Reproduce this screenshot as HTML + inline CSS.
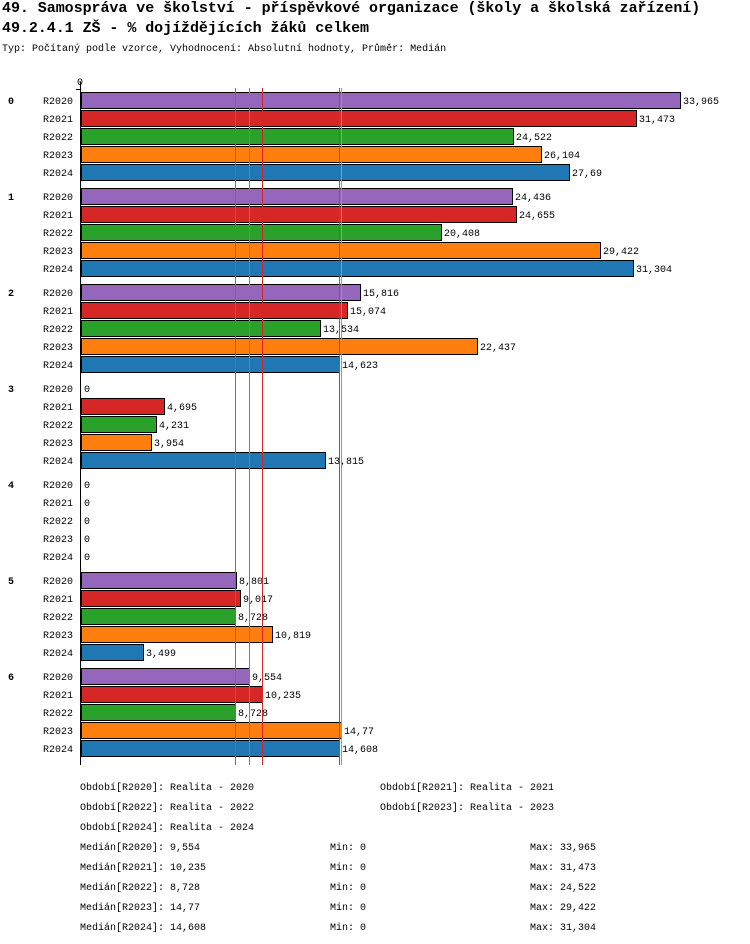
<!DOCTYPE html>
<html><head><meta charset="utf-8"><style>
body{margin:0;background:#fff;width:750px;height:944px;overflow:hidden;font-family:"Liberation Mono",monospace;}
.t{position:absolute;left:2px;font-weight:bold;font-size:15px;white-space:nowrap;letter-spacing:-0.05px;}
.s{position:absolute;left:2px;top:44px;font-size:10px;}
svg{position:absolute;left:0;top:0;}
svg text{font-family:"Liberation Mono",monospace;font-size:10px;}
</style></head><body>
<div class="t" style="top:0px">49. Samospráva ve školství - příspěvkové organizace (školy a školská zařízení)</div>
<div class="t" style="top:20px">49.2.4.1 ZŠ - % dojíždějících žáků celkem</div>
<div class="s">Typ: Počítaný podle vzorce, Vyhodnocení: Absolutní hodnoty, Průměr: Medián</div>
<svg id="c" width="750" height="944" shape-rendering="crispEdges"></svg>
<script>
const groups=["0","1","2","3","4","5","6"];
const series=["R2020","R2021","R2022","R2023","R2024"];
const colors=["#9467bd","#d62728","#2ca02c","#ff7f0e","#1f77b4"];
const values=[
[33.965,31.473,24.522,26.104,27.69],
[24.436,24.655,20.408,29.422,31.304],
[15.816,15.074,13.534,22.437,14.623],
[0,4.695,4.231,3.954,13.815],
[0,0,0,0,0],
[8.801,9.017,8.728,10.819,3.499],
[9.554,10.235,8.728,14.77,14.608]];
const labels=[
["33,965","31,473","24,522","26,104","27,69"],
["24,436","24,655","20,408","29,422","31,304"],
["15,816","15,074","13,534","22,437","14,623"],
["0","4,695","4,231","3,954","13,815"],
["0","0","0","0","0"],
["8,801","9,017","8,728","10,819","3,499"],
["9,554","10,235","8,728","14,77","14,608"]];
const medians=[9.554,10.235,8.728,14.77,14.608];
const medianLabels=["9,554","10,235","8,728","14,77","14,608"];
const maxLabels=["33,965","31,473","24,522","29,422","31,304"];
const x0=81,k=599/33.965;
const X=v=>Math.round(x0+v*k);
const Y=(g,r)=>100+g*96+r*18;
const svg=document.getElementById('c');
const NS="http://www.w3.org/2000/svg";
function mk(t,a){const e=document.createElementNS(NS,t);for(const n in a)e.setAttribute(n,a[n]);svg.appendChild(e);return e;}
let e;
e=mk('rect',{x:80,y:82,width:1,height:683,fill:'#000'});


e=mk('rect',{x:76,y:89,width:4,height:1,fill:'#000'});
e=mk('text',{x:77,y:85});e.textContent='0';


groups.forEach((g,gi)=>{
 e=mk('text',{x:8,y:Y(gi,0)+4,'font-weight':'bold'});e.textContent=g;
 
 
 series.forEach((s,si)=>{
  const cy=Y(gi,si),v=values[gi][si];
  e=mk('text',{x:43,y:cy+4});e.textContent=s;
  
  
  if(v>0){e=mk('rect',{x:x0+0.5,y:cy-7.5,width:X(v)-x0,height:16,fill:colors[si],stroke:'#000','stroke-width':1});
  
  }
  e=mk('text',{x:X(v)+3,y:cy+4});e.textContent=labels[gi][si];
  
  
 });
});
medians.forEach((m,i)=>{
 e=mk('rect',{x:X(m),y:88,width:1,height:677,fill:colors[i]});
 
 
});
function txt(x,y,s,n){e=mk('text',{x:x,y:y});e.textContent=s;
 
 }
txt(80,790,'Období[R2020]: Realita - 2020','legend-entry');
txt(380,790,'Období[R2021]: Realita - 2021','legend-entry');
txt(80,810,'Období[R2022]: Realita - 2022','legend-entry');
txt(380,810,'Období[R2023]: Realita - 2023','legend-entry');
txt(80,830,'Období[R2024]: Realita - 2024','legend-entry');
series.forEach((s,i)=>{
 const y=850+i*20;
 txt(80,y,'Medián['+s+']: '+medianLabels[i],'median-stat');
 txt(330,y,'Min: 0','min-stat');
 txt(530,y,'Max: '+maxLabels[i],'max-stat');
});
</script>
</body></html>
